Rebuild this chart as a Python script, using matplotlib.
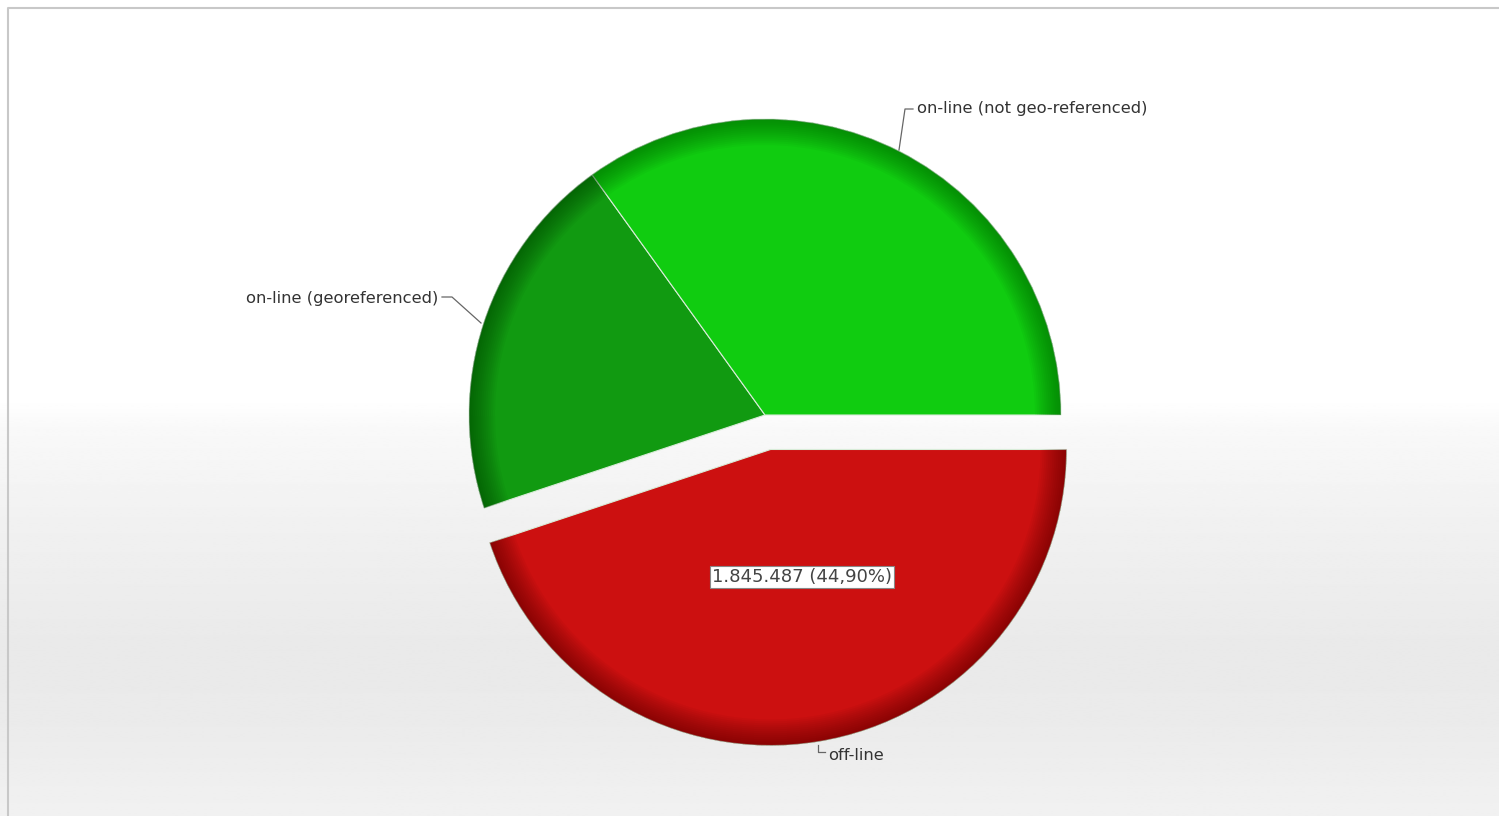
import numpy as np
import matplotlib
matplotlib.use("Agg")
import matplotlib.pyplot as plt
from matplotlib.patches import Wedge

# ---- data ----
categories = ["off-line", "on-line (georeferenced)", "on-line (not geo-referenced)"]
values = [1845487, 829100, 1435629]
colors = ["#cc1010", "#119a11", "#10cc10"]
rim_colors = ["#5a0000", "#044004", "#056005"]
explode = [0.118, 0.0, 0.0]

W, H = 1499, 816
fig = plt.figure(figsize=(W / 100, H / 100), dpi=100)
ax = fig.add_axes([0, 0, 1, 1])

def Y(y):
    return H - y

# background gradient (row 0 = top of figure)
ys = np.array([0, 400, 430, 520, 650, 720, 816]) / H
vals = np.array([1.0, 1.0, 0.975, 0.945, 0.915, 0.92, 0.945])
grad_y = np.linspace(0, 1, 400)
grad = np.interp(grad_y, ys, vals)
img = np.repeat(grad[:, None], 2, axis=1)
ax.imshow(img, cmap="gray", vmin=0, vmax=1, extent=[0, W, 0, H],
          origin="upper", aspect="auto", zorder=0, interpolation="bilinear")

R = 296
total = sum(values)
wedges, _ = ax.pie(values, colors=colors, startangle=0, counterclock=False,
                   explode=[e * R for e in explode], radius=R,
                   center=(765, Y(415)),
                   wedgeprops=dict(edgecolor="#d8ecd8", linewidth=0.8))
for w in wedges:
    w.set_zorder(2)

# inner rim shading along outer arc
for w, rc in zip(wedges, rim_colors):
    for width in range(26, 0, -2):
        ring = Wedge(w.center, w.r, w.theta1, w.theta2, width=width,
                     facecolor=rc, edgecolor="none", alpha=0.055, zorder=3)
        ax.add_patch(ring)

ax.set_xlim(0, W)
ax.set_ylim(0, H)
ax.set_aspect("auto")
ax.axis("off")

# border
ax.plot([8, 8, W], [0, Y(8), Y(8)], color="#c8c8c8", lw=1.5, zorder=5,
        solid_capstyle="butt")

tc = "#333333"
lc = "#666666"
fs = 11.8
# label: not geo-referenced
ax.plot([899, 905, 913], [Y(150), Y(109), Y(109)], color=lc, lw=0.9, zorder=6)
ax.text(917, Y(109), categories[2], fontsize=fs, color=tc, ha="left",
        va="center", zorder=6)
# label: georeferenced
ax.plot([442, 452, 481], [Y(297), Y(297), Y(323)], color=lc, lw=0.9, zorder=6)
ax.text(438, Y(299), categories[1], fontsize=fs, color=tc, ha="right",
        va="center", zorder=6)
# label: off-line
ax.plot([818, 818, 825], [Y(745), Y(752), Y(752)], color=lc, lw=0.9, zorder=6)
ax.text(828, Y(756), categories[0], fontsize=fs, color=tc, ha="left",
        va="center", zorder=6)

# value label
v = values[0]
pct = v / total * 100
lab = f"{v:,}".replace(",", ".") + " (" + f"{pct:.2f}".replace(".", ",") + "%)"
ax.text(802, Y(577), lab, fontsize=13, color="#444444", ha="center",
        va="center", zorder=7,
        bbox=dict(boxstyle="square,pad=0.12", facecolor="white",
                  edgecolor="#888888", linewidth=0.8))

fig.savefig("out.png", dpi=100)
